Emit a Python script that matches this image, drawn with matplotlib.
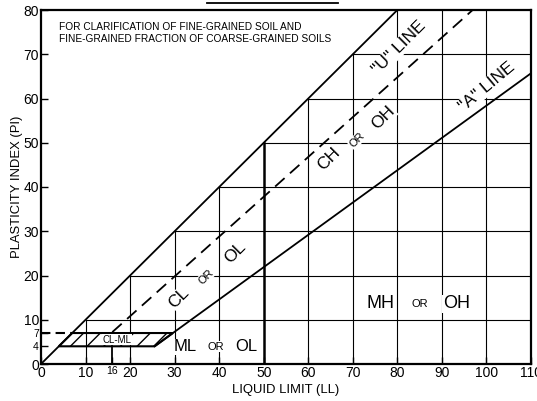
import matplotlib
matplotlib.use("Agg")
import matplotlib.pyplot as plt
from matplotlib.patches import Polygon
from matplotlib.lines import Line2D

plt.rcParams['font.family'] = ['Liberation Sans', 'DejaVu Sans']

# axis ticks
x_ticks = [0, 10, 20, 30, 40, 50, 60, 70, 80, 90, 100, 110]
y_ticks = [0, 10, 20, 30, 40, 50, 60, 70, 80]
x_minor_ticks = [16]
y_minor_ticks = [4, 7]

# grid lines (drawn only below the PI = LL limit)
grid_x = [10, 20, 30, 40, 60, 70, 80, 90, 100]
grid_y = [10, 20, 30, 40, 50, 60, 70]

# boundary lines
limit_ll = [0, 80]
limit_pi = [0, 80]
u_line_ll = [16, 96.9]
u_line_pi = [7.2, 80]
a_line_ll = [25.5, 110]
a_line_pi = [4, 65.7]
ll_50 = [50, 50]
pi_50 = [0, 50]

# CL-ML hatched zone
clml_ll = [4, 7, 29.6, 25.5]
clml_pi = [4, 7, 7, 4]

fig = plt.figure(figsize=(5.37, 4.01), dpi=100)
ax = fig.add_axes([41 / 537, 37 / 401, 490 / 537, 354 / 401])
ax.set_xlim(0, 110)
ax.set_ylim(0, 80)

glw = 0.8
for gx in grid_x:
    ax.plot([gx, gx], [0, min(gx, 80)], color='black', lw=glw, zorder=1)
for gy in grid_y:
    ax.plot([gy, 110], [gy, gy], color='black', lw=glw, zorder=1)

ax.plot(limit_ll, limit_pi, color='black', lw=1.3, zorder=2)
ax.plot(u_line_ll, u_line_pi, color='black', lw=1.3, ls=(0, (7, 4)), zorder=2)
ax.plot(a_line_ll, a_line_pi, color='black', lw=1.3, zorder=2)
ax.plot(ll_50, pi_50, color='black', lw=1.8, zorder=2)

# CL-ML zone
ax.add_patch(Polygon(list(zip(clml_ll, clml_pi)), closed=True, fill=False,
                     hatch='//', lw=1.5, edgecolor='black', zorder=2))
ax.plot([0, 7], [7, 7], color='black', lw=1.5, ls=(0, (4.5, 2.5)), zorder=2)
ax.plot([16, 16], [0, 4], color='black', lw=1.3, zorder=2)

# ticks
ax.set_xticks(x_ticks + x_minor_ticks)
ax.set_xticklabels([str(v) for v in x_ticks + x_minor_ticks])
ax.set_yticks(y_ticks + y_minor_ticks)
ax.set_yticklabels([str(v) for v in y_ticks + y_minor_ticks])
ax.tick_params(direction='in', length=5, width=1, labelsize=10, pad=1.5)
for lab in ax.get_xticklabels():
    if lab.get_text() == '16':
        lab.set_fontsize(7.5)
for lab in ax.get_yticklabels():
    if lab.get_text() in ('4', '7'):
        lab.set_fontsize(7.5)
for s in ax.spines.values():
    s.set_linewidth(1.6)

ax.set_xlabel('LIQUID LIMIT (LL)', fontsize=9.4, labelpad=3)
ax.set_ylabel('PLASTICITY INDEX (PI)', fontsize=9.4, labelpad=0.5)

ax.text(4, 74.8, 'FOR CLARIFICATION OF FINE-GRAINED SOIL AND\nFINE-GRAINED FRACTION OF COARSE-GRAINED SOILS',
        fontsize=7.3, ha='left', va='center', linespacing=1.3)

wb = dict(facecolor='white', edgecolor='none', pad=0.5)
big = 12.5
small = 8

# rotated labels
ax.text(64.6, 46.3, 'CH', fontsize=big, rotation=45, ha='center', va='center', bbox=wb, zorder=3)
ax.text(70.9, 50.6, 'OR', fontsize=small, rotation=45, ha='center', va='center', bbox=wb, zorder=3)
ax.text(76.8, 55.6, 'OH', fontsize=big, rotation=45, ha='center', va='center', bbox=wb, zorder=3)
ax.text(31.0, 15.0, 'CL', fontsize=big, rotation=45, ha='center', va='center', bbox=wb, zorder=3)
ax.text(37.0, 19.7, 'OR', fontsize=small, rotation=45, ha='center', va='center', bbox=wb, zorder=3)
ax.text(43.6, 25.1, 'OL', fontsize=big, rotation=45, ha='center', va='center', bbox=wb, zorder=3)
ax.text(80.3, 71.4, '"U" LINE', fontsize=12.5, rotation=45, ha='center', va='center', bbox=wb, zorder=3)
ax.text(100.1, 62.6, '"A" LINE', fontsize=12.5, rotation=40, ha='center', va='center', bbox=wb, zorder=3)

# horizontal labels
ax.text(32.3, 3.9, 'ML', fontsize=12, ha='center', va='center', bbox=wb, zorder=3)
ax.text(39.2, 3.9, 'OR', fontsize=small, ha='center', va='center', bbox=wb, zorder=3)
ax.text(46.0, 3.9, 'OL', fontsize=12, ha='center', va='center', bbox=wb, zorder=3)
ax.text(76.3, 13.6, 'MH', fontsize=13, ha='center', va='center', bbox=wb, zorder=3)
ax.text(85.1, 13.6, 'OR', fontsize=small, ha='center', va='center', bbox=wb, zorder=3)
ax.text(93.2, 13.6, 'OH', fontsize=13, ha='center', va='center', bbox=wb, zorder=3)
ax.text(17.1, 5.5, 'CL-ML', fontsize=7, ha='center', va='center',
        bbox=dict(facecolor='white', edgecolor='none', pad=0.3), zorder=3)

# cut-off title underline at top
fig.add_artist(Line2D([207 / 537, 338 / 537], [1 - 3 / 401, 1 - 3 / 401],
                      color='black', lw=1.3, transform=fig.transFigure))

fig.savefig('out.png', dpi=100)
